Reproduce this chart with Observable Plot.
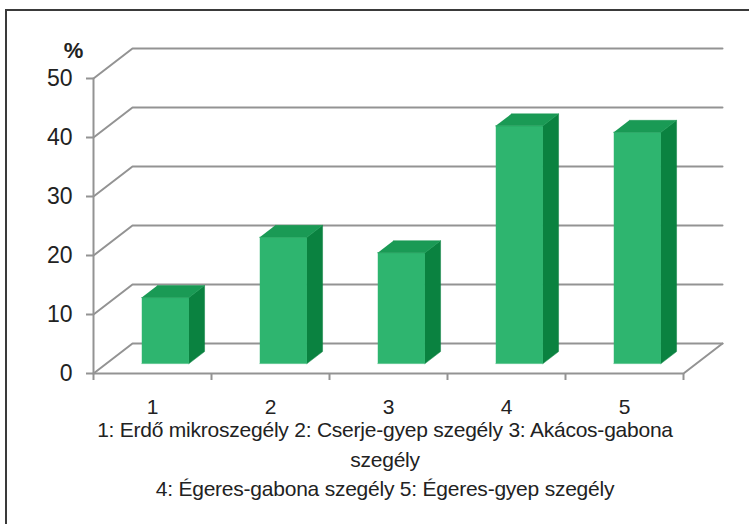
<!DOCTYPE html>
<html><head><meta charset="utf-8">
<script src="https://cdn.jsdelivr.net/npm/d3@7"></script>
<script src="https://cdn.jsdelivr.net/npm/@observablehq/plot@0.6"></script>
<style>
body{margin:0;background:#fff;}
#wrap{position:relative;width:749px;height:524px;overflow:hidden;background:#fff;font-family:"Liberation Sans",Arial,sans-serif;}
#border{position:absolute;left:5px;top:9px;width:800px;height:600px;border-top:2px solid #3a3a3a;border-left:2px solid #3a3a3a;}
#chart{position:absolute;left:0;top:0;}
#caption{position:absolute;left:0;top:415px;width:770px;text-align:center;font-size:21px;letter-spacing:-0.23px;line-height:29.5px;color:#222;}
</style></head><body>
<div id="wrap"><div id="border"></div><div id="chart"></div><div id="caption"></div></div>
<script>
const categories = ["1", "2", "3", "4", "5"];
const values = [11.2, 21.4, 18.8, 40.3, 39.2];
const yTicks = [0, 10, 20, 30, 40, 50];
const yUnit = "%";
const captionLines = [
  "1: Erdő mikroszegély 2: Cserje-gyep szegély 3: Akácos-gabona",
  "szegély",
  "4: Égeres-gabona szegély 5: Égeres-gyep szegély"
];

const W = 749, H = 420, mL = 93, mR = 66, mT = 78, mB = 47;
const n = categories.length, yMax = 50;
const kx = (W - mL - mR) / n;   // px per category unit
const ky = (H - mT - mB) / yMax; // px per y unit
const DX = 39 / kx, DY = 30 / ky; // 3D wall depth expressed in data units
const P = (x, y, z, id) => ({x: x + z * DX, y: y + z * DY, id});

// walls & gridlines
const gridPts = [];
yTicks.forEach(t => {
  gridPts.push(P(0, t, 0, t), P(0, t, 1, t), P(n, t, 1, t));
});
const floorPts = [P(0, 0, 0, "f"), P(n, 0, 0, "f"), P(n, 0, 1, "f")];
const axisPts = [P(0, 0, 0, "a"), P(0, yMax, 0, "a")];

// bar faces
const zf = 0.33, zb = 0.73, b0 = 0.3, b1 = 0.7;
const frontFaces = [], sideFaces = [], topFaces = [];
values.forEach((v, i) => {
  const x0 = i + b0, x1 = i + b1;
  frontFaces.push(P(x0, 0, zf, i), P(x1, 0, zf, i), P(x1, v, zf, i), P(x0, v, zf, i));
  sideFaces.push(P(x1, 0, zf, i), P(x1, 0, zb, i), P(x1, v, zb, i), P(x1, v, zf, i));
  topFaces.push(P(x0, v, zf, i), P(x1, v, zf, i), P(x1, v, zb, i), P(x0, v, zb, i));
});

const gridColor = "#939393";
const chart = Plot.plot({
  width: W, height: H,
  marginLeft: mL, marginRight: mR, marginTop: mT, marginBottom: mB,
  x: {domain: [0, n], axis: null},
  y: {domain: [0, yMax], axis: null},
  style: {fontFamily: '"Liberation Sans", Arial, sans-serif', color: "#222", background: "transparent"},
  marks: [
    Plot.line(gridPts, {x: "x", y: "y", z: "id", stroke: gridColor, strokeWidth: 2}),
    Plot.line(floorPts, {x: "x", y: "y", z: "id", stroke: gridColor, strokeWidth: 2}),
    Plot.line(axisPts, {x: "x", y: "y", z: "id", stroke: gridColor, strokeWidth: 2}),
    Plot.ruleY(yTicks, {y: d => d, x1: 0, x2: -7 / kx, stroke: gridColor, strokeWidth: 2}),
    Plot.ruleX(d3.range(n + 1), {x: d => d, y1: 0, y2: -7 / ky, stroke: gridColor, strokeWidth: 2}),
    Plot.line(frontFaces, {x: "x", y: "y", z: "id", fill: "#2eb56f", stroke: "#2eb56f", strokeWidth: 0.5}),
    Plot.line(sideFaces, {x: "x", y: "y", z: "id", fill: "#0a8240", stroke: "#0a8240", strokeWidth: 0.5}),
    Plot.line(topFaces, {x: "x", y: "y", z: "id", fill: "#1a9a55", stroke: "#1a9a55", strokeWidth: 0.5}),
    Plot.text(yTicks, {x: 0, y: d => d, text: d => String(d), dx: -21, textAnchor: "end", fontSize: 23, fill: "#222"}),
    Plot.text([yUnit], {x: 0, y: yMax, text: d => d, dx: -20, dy: -28, fontSize: 22, fontWeight: "bold", fill: "#222"}),
    Plot.text(categories, {x: (d, i) => i + 0.5, y: 0, text: d => d, dy: 34, fontSize: 21, fill: "#222"})
  ]
});
document.getElementById("chart").appendChild(chart);
const cap = document.getElementById("caption");
captionLines.forEach(l => { const d = document.createElement("div"); d.textContent = l; cap.appendChild(d); });
</script>
</body></html>
